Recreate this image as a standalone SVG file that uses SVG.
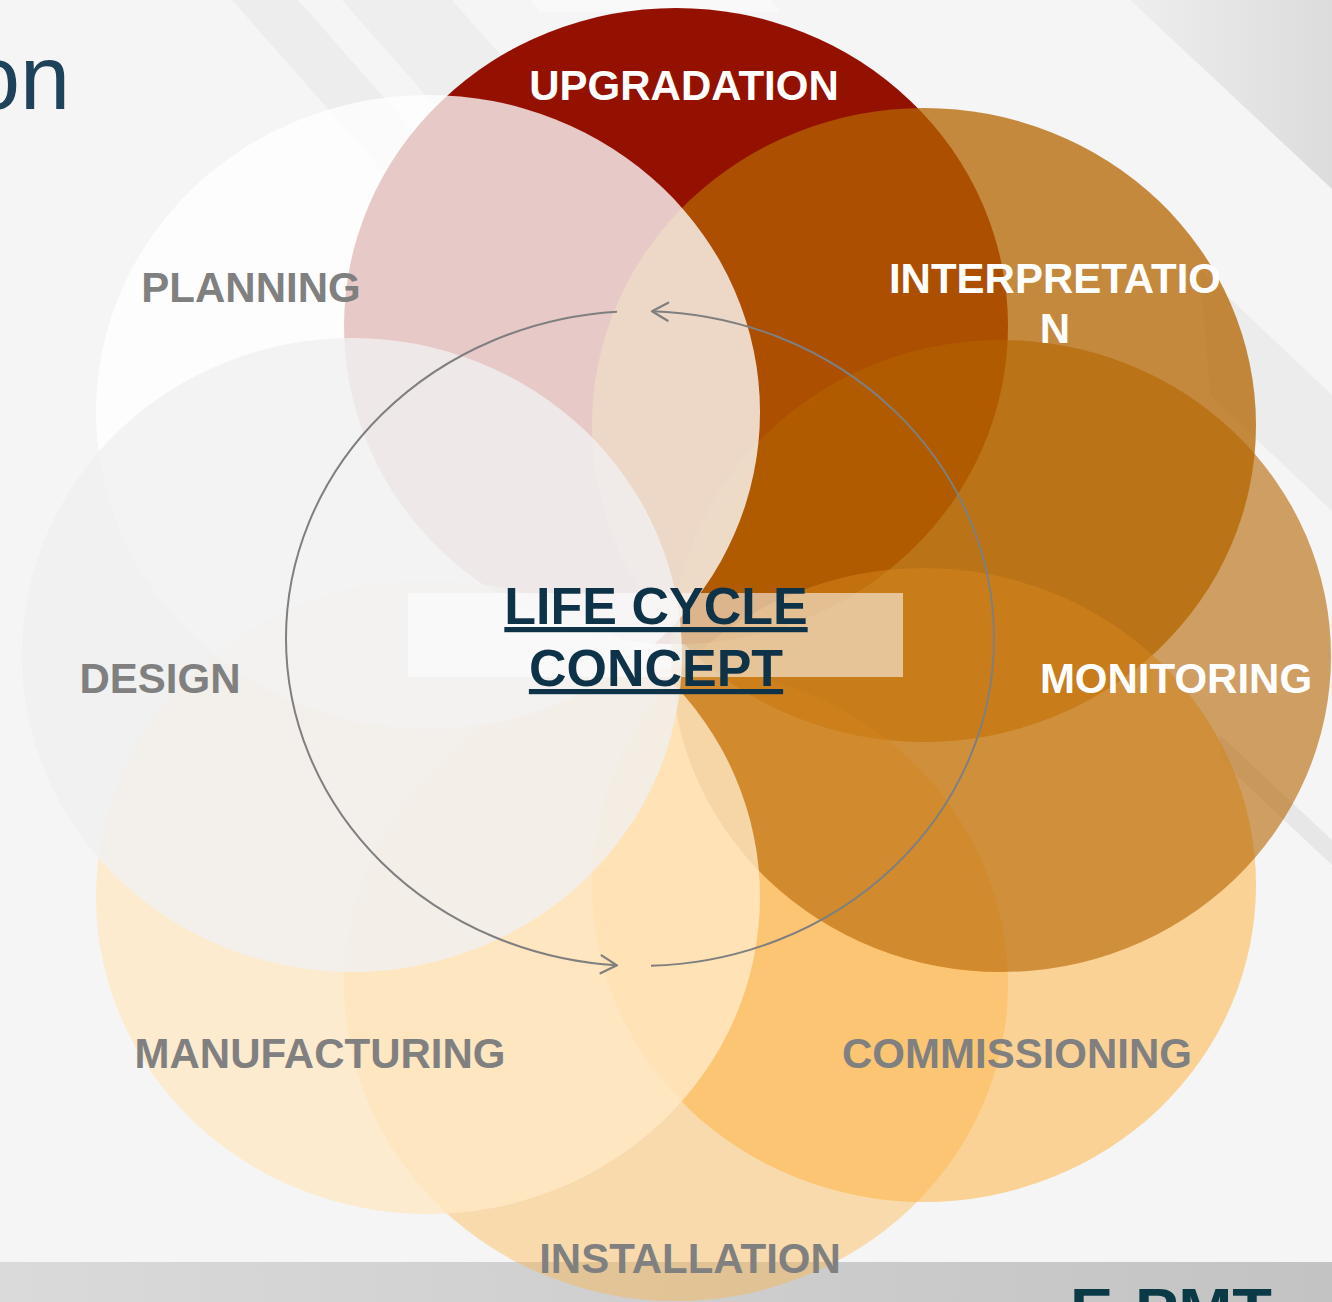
<svg xmlns="http://www.w3.org/2000/svg" width="1332" height="1302" viewBox="0 0 1332 1302">
  <defs>
    <linearGradient id="barGrad" x1="0" y1="0" x2="1" y2="0">
      <stop offset="0" stop-color="#DADADA"/>
      <stop offset="1" stop-color="#C3C3C3"/>
    </linearGradient>
    <linearGradient id="cornerGrad" x1="0" y1="0" x2="1" y2="0">
      <stop offset="0" stop-color="#EEEEEE"/>
      <stop offset="1" stop-color="#DCDCDC"/>
    </linearGradient>
    <marker id="arrowOpen" markerUnits="userSpaceOnUse" markerWidth="22" markerHeight="22" viewBox="0 0 22 22" refX="19" refY="11" orient="auto">
      <path d="M3,2 L19,11 L3,20" fill="none" stroke="#7F7F7F" stroke-width="2.2" stroke-linecap="round" stroke-linejoin="round"/>
    </marker>
    <style>
      .lbl { font-family: "Liberation Sans", Arial, sans-serif; font-weight: bold; font-size: 42px; text-anchor: middle; }
      .gray { fill: #808080; }
      .white { fill: #FFFFFF; }
      .center { font-family: "Liberation Sans", Arial, sans-serif; font-weight: bold; font-size: 52px; text-anchor: middle; fill: #0E3349; text-decoration: underline; }
      .arc { fill: none; stroke: #7F7F7F; stroke-width: 2; marker-end: url(#arrowOpen); }
    </style>
  </defs>

  <!-- background -->
  <g id="background">
    <rect x="0" y="0" width="1332" height="1302" fill="#F5F5F5"/>
    <polygon points="232,0 298,0 640,388 574,388" fill="#EAEAEA" opacity="0.7"/>
    <polygon points="342,0 452,0 790,385 680,385" fill="#EBEBEB" opacity="0.7"/>
    <polygon points="530,0 770,0 780,12 540,12" fill="#F9F9F9"/>
    <polygon points="1130,0 1332,0 1332,189" fill="url(#cornerGrad)"/>
    <polygon points="1200,270 1332,395 1332,511 1210,395" fill="#EAEAEA" opacity="0.8"/>
    <polygon points="1220,735 1332,840 1332,865 1220,760" fill="#E4E4E4" opacity="0.8"/>
    <text x="-30" y="109" font-family="'Liberation Sans', Arial, sans-serif" font-size="90" fill="#1E4259">on</text>
    <rect x="0" y="1262" width="1332" height="40" fill="url(#barGrad)"/>
    <text x="1070" y="1330" font-family="'Liberation Sans', Arial, sans-serif" font-weight="bold" font-size="60" fill="#0B3A47" textLength="202" lengthAdjust="spacingAndGlyphs">E-PMT</text>
  </g>

  <!-- nodes -->
  <g id="upgradation">
    <ellipse cx="676" cy="326" rx="332" ry="318" fill="#941100"/>
    <text class="lbl white" x="684" y="100">UPGRADATION</text>
  </g>
  <g id="interpretation">
    <ellipse cx="924" cy="425" rx="332" ry="317" fill="#B46400" fill-opacity="0.75"/>
    <text class="lbl white" x="1055" y="293">INTERPRETATIO</text>
    <text class="lbl white" x="1055" y="343">N</text>
  </g>
  <g id="installation">
    <ellipse cx="676" cy="984" rx="332" ry="317" fill="#FFB445" fill-opacity="0.41"/>
    <text class="lbl gray" x="690" y="1273">INSTALLATION</text>
  </g>
  <g id="commissioning">
    <ellipse cx="924" cy="885" rx="332" ry="317" fill="#FFB445" fill-opacity="0.55"/>
    <text class="lbl gray" x="1017" y="1068">COMMISSIONING</text>
  </g>
  <g id="monitoring">
    <ellipse cx="1001" cy="656" rx="330" ry="316" fill="#B46400" fill-opacity="0.6"/>
    <text class="lbl white" x="1176" y="693">MONITORING</text>
  </g>
  <g id="manufacturing">
    <ellipse cx="428" cy="897" rx="332" ry="317" fill="#FFE8C6" fill-opacity="0.8"/>
    <text class="lbl gray" x="320" y="1068">MANUFACTURING</text>
  </g>
  <g id="planning">
    <ellipse cx="428" cy="412" rx="332" ry="317" fill="#FFFFFF" fill-opacity="0.78"/>
    <text class="lbl gray" x="251" y="302">PLANNING</text>
  </g>
  <g id="design">
    <ellipse cx="352" cy="655" rx="330" ry="317" fill="#F0F0F0" fill-opacity="0.8"/>
    <text class="lbl gray" x="160" y="693">DESIGN</text>
  </g>

  <!-- connectors -->
  <g id="connectors">
    <path class="arc" d="M617,311.69 A354,327.5 0 0 0 286,638.5 A354,327.5 0 0 0 617,965.31"/>
    <path class="arc" d="M651,965.84 A354,327.5 0 0 0 994,638.5 A354,327.5 0 0 0 652,311.19"/>
  </g>

  <!-- center concept -->
  <g id="life-cycle-concept">
    <rect x="408" y="593" width="495" height="84" fill="#FFFFFF" fill-opacity="0.55"/>
    <text class="center" x="656" y="624">LIFE CYCLE</text>
    <text class="center" x="656" y="686">CONCEPT</text>
  </g>
</svg>
